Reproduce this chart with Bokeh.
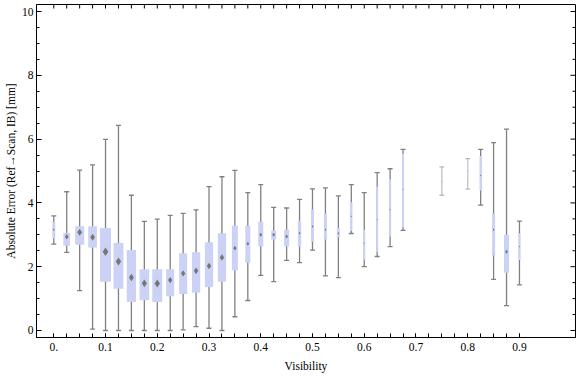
import numpy as np
from bokeh.plotting import figure
from bokeh.models import ColumnDataSource, FixedTicker, Range1d
from bokeh.embed import file_html
from bokeh.resources import INLINE

# ---- data ----
visibility = [0.0, 0.025, 0.05, 0.075, 0.1, 0.125, 0.15, 0.175, 0.2, 0.225,
              0.25, 0.275, 0.3, 0.325, 0.35, 0.375, 0.4, 0.425, 0.45, 0.475,
              0.5, 0.525, 0.55, 0.575, 0.6, 0.625, 0.65, 0.675, 0.75, 0.8,
              0.825, 0.85, 0.875, 0.9]
whisker_low = [2.71, 2.45, 1.25, 0.04, 0.0, 0.0, 0.0, 0.0, 0.0, 0.0,
               0.02, 0.12, 0.07, 0.0, 0.43, 0.94, 1.73, 1.53, 2.20, 2.13,
               2.52, 1.71, 1.66, 3.04, 2.00, 2.32, 2.63, 3.14, 4.24, 4.43,
               3.93, 1.60, 0.78, 1.43]
q1 = [2.89, 2.66, 2.69, 2.60, 1.53, 1.31, 0.89, 0.95, 0.89, 1.07,
      1.14, 1.18, 1.36, 1.53, 1.89, 2.12, 2.63, 2.85, 2.63, 2.63,
      2.78, 2.85, 2.92, 3.13, 2.22, 2.46, 2.95, 3.24, 4.54, 4.77,
      4.39, 2.35, 1.81, 2.21]
median = [3.16, 2.94, 3.08, 2.92, 2.47, 2.16, 1.66, 1.48, 1.47, 1.58,
          1.79, 1.87, 2.02, 2.29, 2.58, 2.72, 3.00, 3.00, 2.95, 3.05,
          3.26, 3.16, 3.05, 3.58, 2.74, 3.47, 3.79, 4.42, 4.68, 5.00,
          4.86, 3.16, 2.47, 2.63]
q3 = [3.40, 3.06, 3.27, 3.27, 3.21, 2.74, 2.52, 1.92, 1.92, 1.92,
      2.42, 2.45, 2.77, 3.05, 3.28, 3.28, 3.41, 3.13, 3.16, 3.44,
      3.79, 3.66, 3.22, 4.02, 3.16, 4.51, 4.74, 5.53, 4.82, 5.33,
      5.47, 3.66, 3.00, 3.05]
whisker_high = [3.59, 4.35, 5.03, 5.19, 5.99, 6.43, 4.24, 3.42, 3.49, 3.61,
                3.67, 3.78, 4.51, 4.82, 5.02, 4.32, 4.57, 3.86, 3.84, 4.11,
                4.44, 4.47, 4.22, 4.57, 4.32, 4.95, 5.07, 5.68, 5.13, 5.39,
                5.68, 5.89, 6.31, 3.43]
# box widths (in visibility units)
box_width = [0.0058, 0.0130, 0.0174, 0.0168, 0.0213, 0.0193, 0.0180, 0.0187, 0.0193, 0.0155,
             0.0155, 0.0160, 0.0160, 0.0160, 0.0116, 0.0097, 0.0097, 0.0097, 0.0097, 0.0064,
             0.0058, 0.0058, 0.0058, 0.0044, 0.0039, 0.0039, 0.0039, 0.0039, 0.0019, 0.0019,
             0.0044, 0.0058, 0.0097, 0.0039]

x_major = [0.0, 0.1, 0.2, 0.3, 0.4, 0.5, 0.6, 0.7, 0.8, 0.9]
x_minor = [float(v) for v in np.round(np.arange(0.0, 0.9001, 0.025), 3)]
y_major = [0, 2, 4, 6, 8, 10]
y_minor = [float(v) for v in np.arange(0.0, 10.01, 0.5)]

X_LO, X_HI = -0.0334, 1.0083
Y_LO, Y_HI = -0.22, 10.22

# ---- derived styling ----
PX_PER_UNIT = 517.4
w_px = np.array(box_width) * PX_PER_UNIT
cap_half = 2.5 / PX_PER_UNIT
src = ColumnDataSource(dict(
    x=visibility, lo=whisker_low, q1=q1, med=median, q3=q3, hi=whisker_high,
    w=box_width,
    cl=np.array(visibility) - cap_half, cr=np.array(visibility) + cap_half,
    walpha=np.clip(w_px / 2.0, 0.4, 1.0),
    dsize=np.clip(w_px * 0.8, 1.0, 8.5),
))

p = figure(width=576, height=377, output_backend="svg", toolbar_location=None,
           x_range=Range1d(X_LO, X_HI), y_range=Range1d(Y_LO, Y_HI),
           min_border_left=36, min_border_right=1, min_border_top=4, min_border_bottom=40)
p.grid.visible = False
p.outline_line_color = "black"
p.outline_line_width = 1
p.background_fill_color = "white"
p.border_fill_color = "white"

FONT = "Liberation Serif"

def style_axis(ax, ticks, minor, major_len, minor_len):
    ax.ticker = FixedTicker(ticks=ticks, minor_ticks=minor)
    ax.axis_line_color = "black"
    ax.axis_line_width = 1
    ax.major_tick_in = major_len
    ax.major_tick_out = 0
    ax.minor_tick_in = minor_len
    ax.minor_tick_out = 0
    ax.major_tick_line_color = "black"
    ax.minor_tick_line_color = "black"
    ax.major_label_text_font = FONT
    ax.major_label_text_font_size = "11.5px"
    ax.major_label_text_color = "black"
    ax.axis_label_text_font = FONT
    ax.axis_label_text_font_size = "11.5px"
    ax.axis_label_text_font_style = "normal"
    ax.axis_label_text_color = "black"

xa = p.xaxis[0]
ya = p.yaxis[0]
style_axis(xa, x_major, x_minor, 4, 4)
style_axis(ya, y_major, y_minor, 5, 3)
xa.major_label_overrides = {0.0: "0."}
xa.major_label_standoff = 5
xa.axis_label = "Visibility"
xa.axis_label_standoff = 6
ya.major_label_standoff = 3
ya.axis_label = "Absolute Error (Ref\u2192Scan, IB) [mm]"
ya.axis_label_standoff = 2

# mirrored ticks on the top and right frame edges
p.ray(x=x_minor, y=[Y_HI] * len(x_minor), length=4, length_units="screen",
      angle=-np.pi / 2, line_color="black", line_width=1)
p.ray(x=[X_HI] * len(y_major), y=y_major, length=5, length_units="screen",
      angle=np.pi, line_color="black", line_width=1)
y_minor_only = [v for v in y_minor if v not in y_major]
p.ray(x=[X_HI] * len(y_minor_only), y=y_minor_only, length=3, length_units="screen",
      angle=np.pi, line_color="black", line_width=1)

# whiskers (behind boxes)
p.segment(x0="x", y0="lo", x1="x", y1="hi", source=src,
          line_color="#808080", line_width=1.3, line_alpha="walpha")
p.segment(x0="cl", y0="lo", x1="cr", y1="lo", source=src,
          line_color="#808080", line_width=1.3, line_alpha="walpha")
p.segment(x0="cl", y0="hi", x1="cr", y1="hi", source=src,
          line_color="#808080", line_width=1.3, line_alpha="walpha")
# boxes
p.vbar(x="x", width="w", bottom="q1", top="q3", source=src,
       fill_color="#cbd2f5", line_color=None)
# medians
p.scatter(x="x", y="med", size="dsize", marker="diamond", source=src,
          fill_color="#767676", line_color=None)

open("out.html", "w").write(file_html(p, INLINE))
